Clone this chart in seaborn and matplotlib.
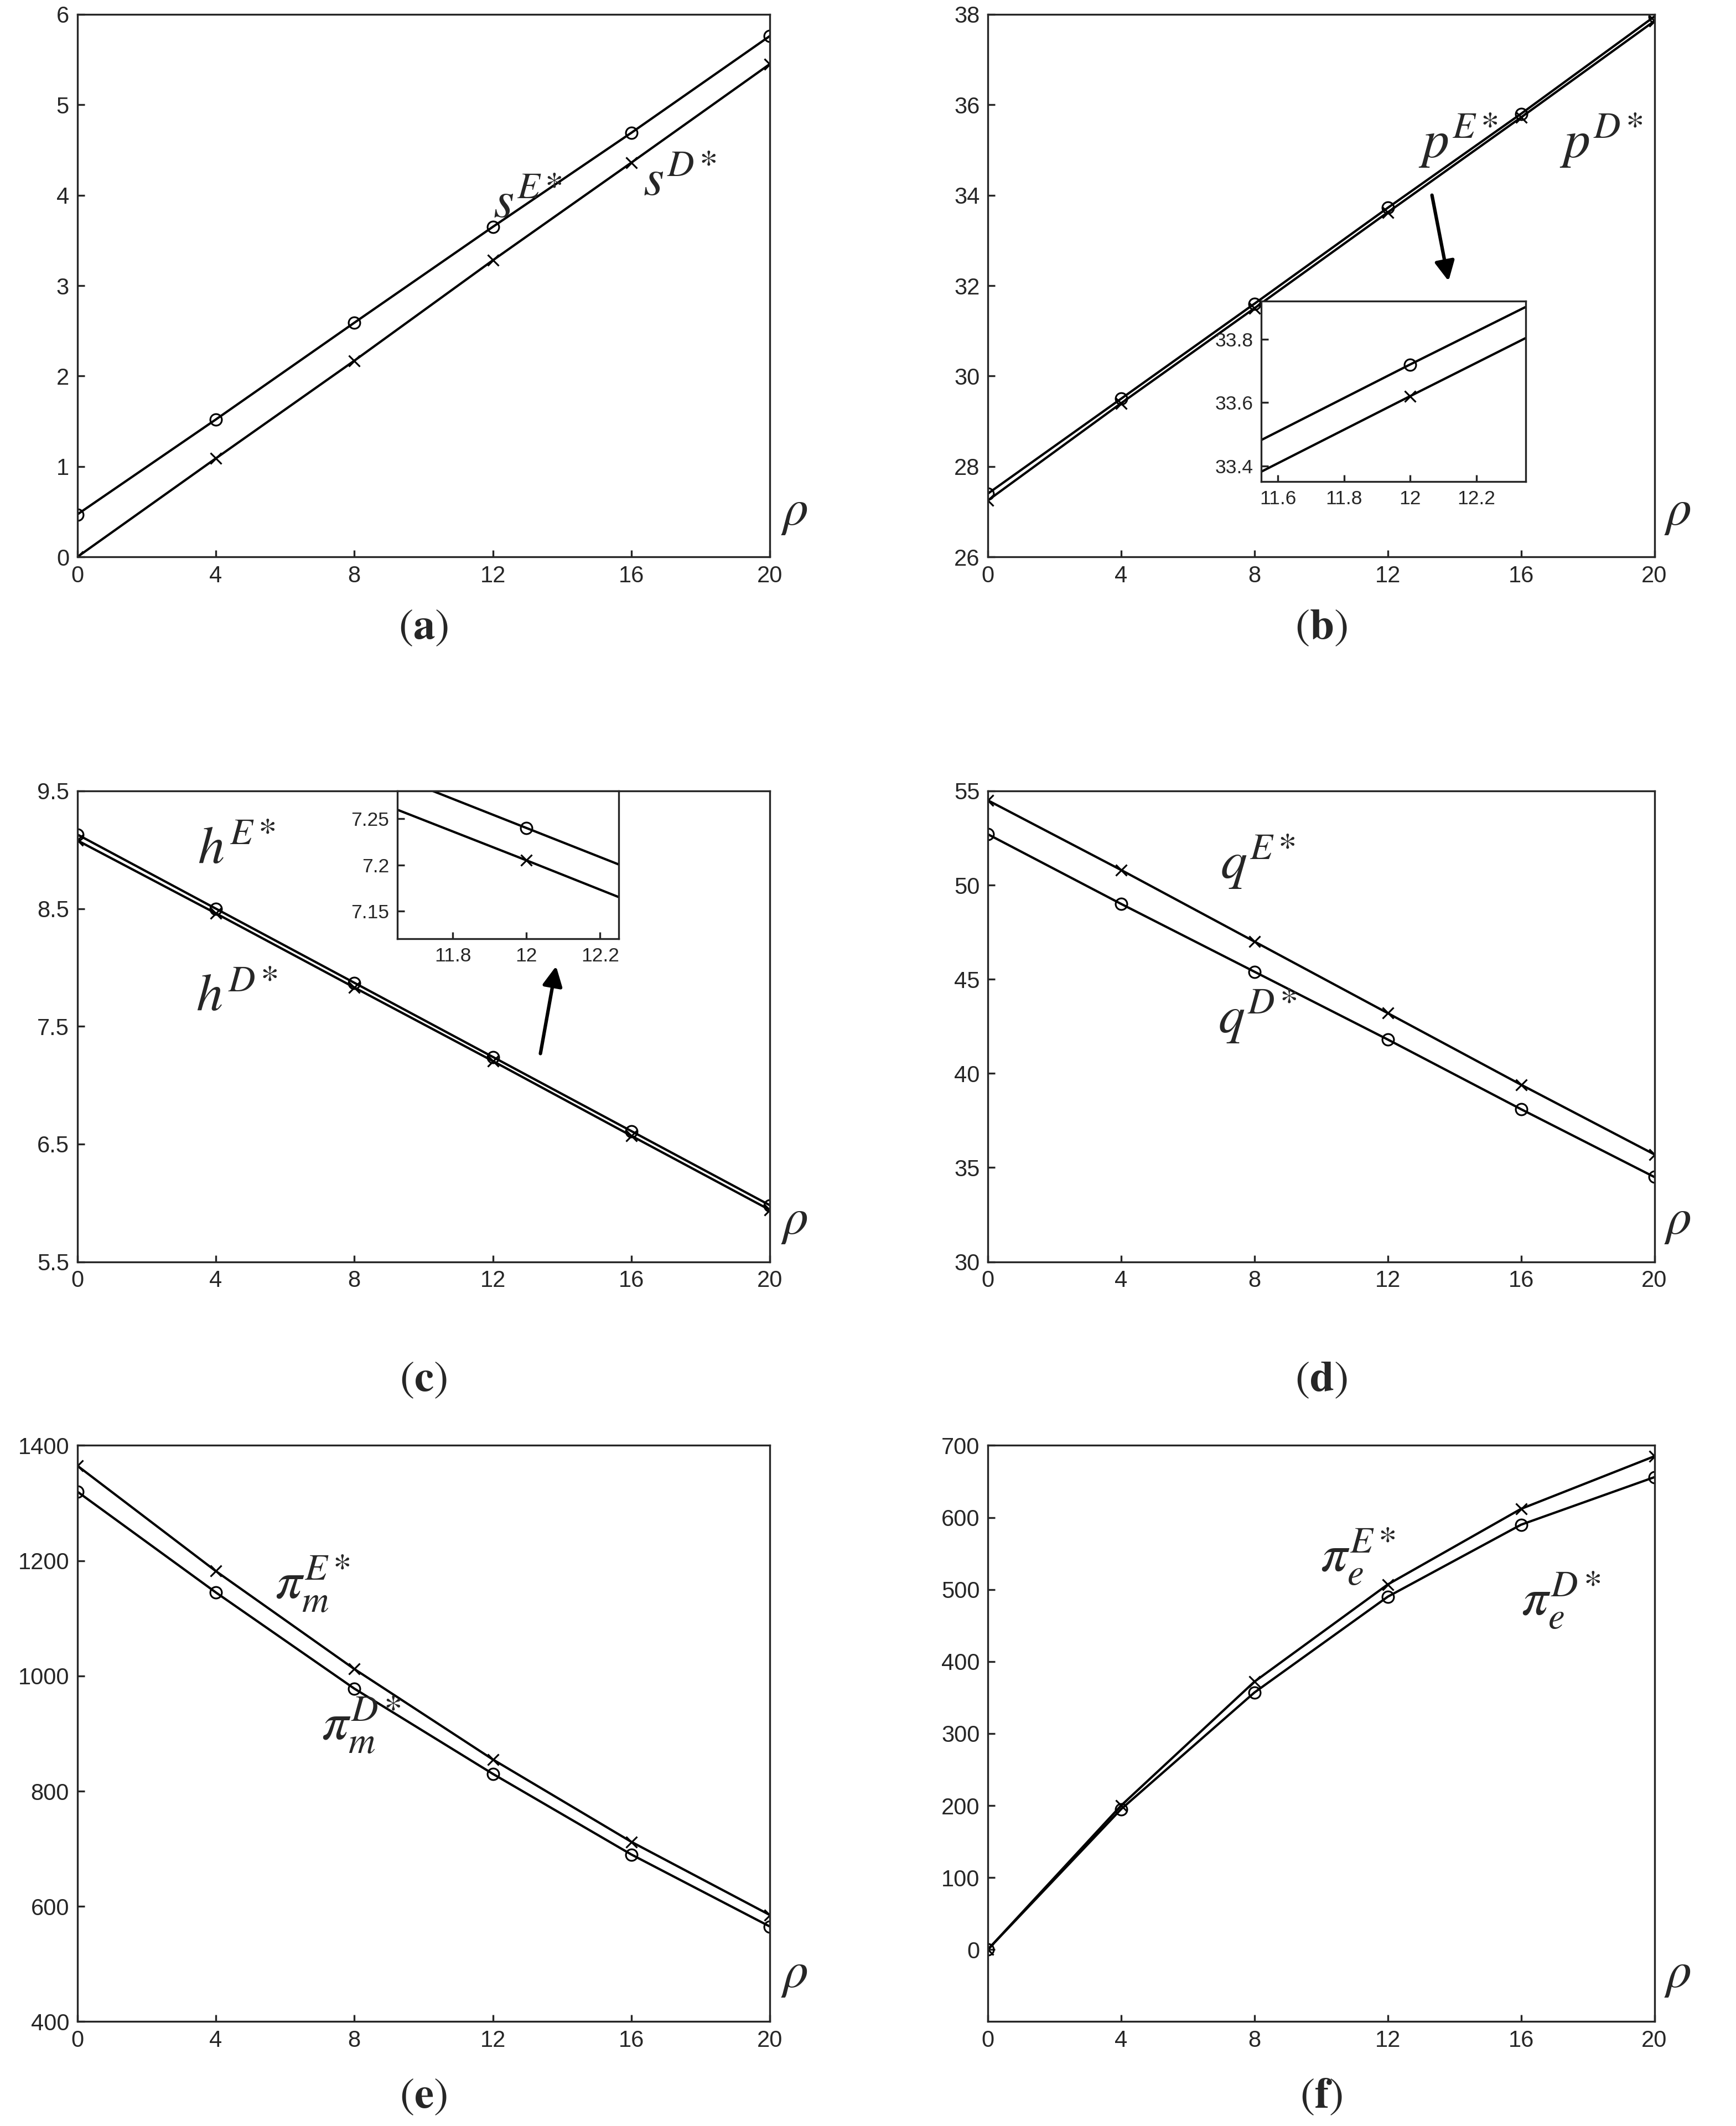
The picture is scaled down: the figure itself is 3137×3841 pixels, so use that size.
import numpy as np
import pandas as pd
import seaborn as sns
import matplotlib.pyplot as plt

sns.set_style("ticks")
plt.rcParams['font.family'] = ['Liberation Sans', 'DejaVu Sans']
plt.rcParams['mathtext.fontset'] = 'stix'

rho = [0, 4, 8, 12, 16, 20]

s_E = [0.47, 1.52, 2.59, 3.65, 4.69, 5.76]
s_D = [0.0, 1.09, 2.17, 3.28, 4.36, 5.45]
p_E = [27.40, 29.50, 31.60, 33.72, 35.80, 37.95]
p_D = [27.25, 29.40, 31.50, 33.62, 35.72, 37.85]
h_E = [9.13, 8.50, 7.87, 7.24, 6.61, 5.98]
h_D = [9.08, 8.46, 7.83, 7.205, 6.57, 5.94]
q_x = [54.5, 50.8, 47.0, 43.2, 39.4, 35.7]
q_o = [52.7, 49.0, 45.4, 41.8, 38.1, 34.5]
pim_x = [1365, 1182, 1012, 855, 712, 585]
pim_o = [1320, 1145, 978, 830, 690, 565]
pie_x = [0, 200, 372, 507, 612, 685]
pie_o = [0, 195, 357, 490, 590, 656]

fig = plt.figure(figsize=(3137 / 300, 3841 / 300), dpi=300)

rows = [(0.738, 0.2553, -0.13), (0.4065, 0.2215, -0.25), (0.0491, 0.271, -0.13)]
cols = [(0.0445, 0.399), (0.569, 0.384)]
tfs = 10


def draw(ax, y_o, y_x):
    df = pd.DataFrame({'rho': rho, 'o': y_o, 'x': y_x})
    sns.lineplot(data=df, x='rho', y='o', ax=ax, color='black', lw=1,
                 marker='o', markersize=5, markerfacecolor='none', markeredgecolor='black')
    sns.lineplot(data=df, x='rho', y='x', ax=ax, color='black', lw=1,
                 marker='x', markersize=5, markeredgecolor='black')
    ax.set_xlabel('')
    ax.set_ylabel('')
    ax.tick_params(labelsize=tfs, direction='in', length=3)


def panel(r, c, y_o, y_x, ylim, yticks, letter):
    l, w = cols[c]
    b, h, ly = rows[r]
    ax = fig.add_axes([l, b, w, h])
    draw(ax, y_o, y_x)
    ax.set_xlim(0, 20)
    ax.set_xticks(rho)
    ax.set_ylim(*ylim)
    ax.set_yticks(yticks)
    ax.text(1.035, 0.06, r'$\rho$', transform=ax.transAxes, fontsize=22, ha='center')
    ax.text(0.5, ly, r'$(\mathbf{' + letter + r'})$', transform=ax.transAxes,
            fontsize=19, ha='center', va='center')
    return ax


def inset(rect, y_o, y_x, xlim, ylim, xt, yt):
    ax = fig.add_axes(rect)
    draw(ax, y_o, y_x)
    ax.set_xlim(*xlim)
    ax.set_ylim(*ylim)
    ax.set_xticks(xt)
    ax.set_yticks(yt)
    ax.set_xticklabels([f'{v:g}' for v in xt])
    ax.set_yticklabels([f'{v:g}' for v in yt])
    ax.tick_params(labelsize=8.5)
    return ax


lab = dict(fontsize=23, ha='center', va='center')

ax = panel(0, 0, s_E, s_D, (0, 6), range(0, 7), 'a')
ax.text(13.0, 3.9, r'$s^{E*}$', **lab)
ax.text(17.4, 4.15, r'$s^{D*}$', **lab)

ax = panel(0, 1, p_E, p_D, (26, 38), range(26, 39, 2), 'b')
ax.text(14.1, 35.2, r'$p^{E*}$', **lab)
ax.text(18.4, 35.2, r'$p^{D*}$', **lab)
ax.annotate('', xy=(13.85, 32.0), xytext=(13.3, 34.1),
            arrowprops=dict(arrowstyle='-|>', color='black', lw=1.5, mutation_scale=18))
inset([930 / 1280, 1 - 355 / 1567, 195 / 1280, 133 / 1567], p_E, p_D,
      (11.55, 12.35), (33.35, 33.92), [11.6, 11.8, 12, 12.2], [33.4, 33.6, 33.8])

ax = panel(1, 0, h_E, h_D, (5.5, 9.5), [5.5, 6.5, 7.5, 8.5, 9.5], 'c')
ax.text(4.6, 9.0, r'$h^{E*}$', **lab)
ax.text(4.6, 7.75, r'$h^{D*}$', **lab)
ax.annotate('', xy=(13.85, 8.05), xytext=(13.35, 7.23),
            arrowprops=dict(arrowstyle='-|>', color='black', lw=1.5, mutation_scale=18))
inset([293 / 1280, 1 - 692 / 1567, 163 / 1280, 109 / 1567], h_E, h_D,
      (11.65, 12.25), (7.12, 7.28), [11.8, 12, 12.2], [7.15, 7.2, 7.25])

ax = panel(1, 1, q_o, q_x, (30, 55), range(30, 56, 5), 'd')
ax.text(8.1, 51.2, r'$q^{E*}$', **lab)
ax.text(8.1, 43.0, r'$q^{D*}$', **lab)

ax = panel(2, 0, pim_o, pim_x, (400, 1400), range(400, 1401, 200), 'e')
ax.text(6.8, 1160, r'$\pi_m^{E*}$', **lab)
ax.text(8.2, 915, r'$\pi_m^{D*}$', **lab)

ax = panel(2, 1, pie_o, pie_x, (-100, 700), range(0, 701, 100), 'f')
ax.text(11.1, 545, r'$\pi_e^{E*}$', **lab)
ax.text(17.2, 485, r'$\pi_e^{D*}$', **lab)

fig.savefig('out.png', dpi=300)
